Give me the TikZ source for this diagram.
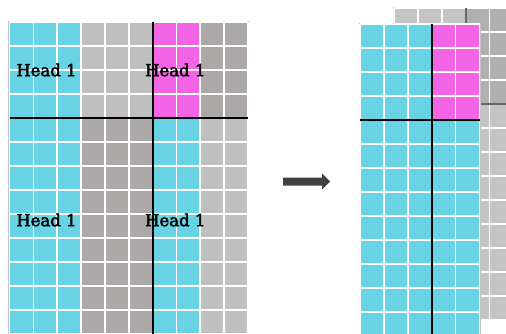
\documentclass[tikz,border=0pt]{standalone}
\usepackage{fontspec}
\setmainfont{DejaVu Serif}
\newfontfamily\headfont{DejaVu Serif}[FakeBold=2.5]
\usetikzlibrary{shapes.arrows}

\definecolor{headcyan}{HTML}{68D3E4}
\definecolor{headpink}{HTML}{F464E6}
\definecolor{greylight}{HTML}{BFBFBF}
\definecolor{greydark}{HTML}{ACA8A7}
\definecolor{backlight}{HTML}{C4C4C4}
\definecolor{backdark}{HTML}{B0B0B0}
\definecolor{frame}{HTML}{C4C4C4}
\definecolor{arrowgrey}{HTML}{404040}

\tikzset{
  gridline/.style={white, line width=1.7pt},
  divider/.style={black, line width=1.8pt},
  backdivider/.style={black!60, line width=1.8pt},
  outline/.style={draw=frame, line width=1.2pt},
  headlabel/.style={font=\headfont\fontsize{16.5}{18}\selectfont, text=black, inner sep=0pt},
}

\begin{document}
\begin{tikzpicture}[x=1pt, y=-1pt]
\useasboundingbox (0,0) rectangle (506,334);
\clip (0,0) rectangle (506,334);

% ---- left: full attention grid (10 columns x 13 rows) ----
\begin{scope}[shift={(9.5,22)}, x=23.85pt, y=-24pt]
  \draw[outline] (-0.03,-0.03) rectangle (10.03,13);
  \fill[headcyan]  (0,0) rectangle (3,13);
  \fill[greylight] (3,0) rectangle (6,4);
  \fill[greydark]  (3,4) rectangle (6,13);
  \fill[headpink]  (6,0) rectangle (8,4);
  \fill[headcyan]  (6,4) rectangle (8,13);
  \fill[greydark]  (8,0) rectangle (10,4);
  \fill[greylight] (8,4) rectangle (10,13);
  \foreach \i in {0,...,10} \draw[gridline] (\i,0) -- (\i,13);
  \foreach \j in {0,...,13} \draw[gridline] (0,\j) -- (10,\j);
  \draw[divider] (6,0) -- (6,13);
  \draw[divider] (0,4) -- (10,4);
  \node[headlabel] (h1) at (1.55,2)    {Head 1};
  \node[headlabel] (h2) at (6.95,2)    {Head 1};
  \node[headlabel] (h3) at (1.55,8.25) {Head 1};
  \node[headlabel] (h4) at (6.95,8.25) {Head 1};
\end{scope}

% ---- block arrow between the two grids ----
\coordinate (arrowtail) at (283,181.5);
\coordinate (arrowtip)  at (330,181.5);
\fill[arrowgrey]
  ([yshift=-4pt]arrowtail) -- ([xshift=-8pt,yshift=-4pt]arrowtip)
  -- ([xshift=-8pt,yshift=-8pt]arrowtip) -- (arrowtip)
  -- ([xshift=-8pt,yshift=8pt]arrowtip) -- ([xshift=-8pt,yshift=4pt]arrowtip)
  -- ([yshift=4pt]arrowtail) -- cycle;

% ---- right, back layer: stacked grey grid ----
\begin{scope}[shift={(394,8)}, x=23.9pt, y=-24pt]
  \draw[outline] (-0.03,-0.03) rectangle (5.03,13);
  \fill[backlight] (0,0) rectangle (5,13);
  \fill[backdark]  (3,0) rectangle (5,4);
  \foreach \i in {0,...,5} \draw[gridline] (\i,0) -- (\i,13);
  \foreach \j in {0,...,13} \draw[gridline] (0,\j) -- (5,\j);
  \draw[backdivider] (3,0) -- (3,13);
  \draw[backdivider] (0,4) -- (5,4);
\end{scope}

% ---- right, front layer: one head's block ----
\begin{scope}[shift={(360,24)}, x=23.9pt, y=-24pt]
  \fill[white] (-0.06,-0.06) rectangle (5.06,13.2);
  \draw[outline] (-0.03,-0.03) rectangle (5.03,13.2);
  \fill[headcyan] (0,0) rectangle (5,13);
  \fill[headpink] (3,0) rectangle (5,4);
  \foreach \i in {0,...,5} \draw[gridline] (\i,0) -- (\i,13);
  \foreach \j in {0,...,13} \draw[gridline] (0,\j) -- (5,\j);
  \draw[divider] (3,0) -- (3,13);
  \draw[divider] (0,4) -- (5,4);
\end{scope}
\end{tikzpicture}
\end{document}
